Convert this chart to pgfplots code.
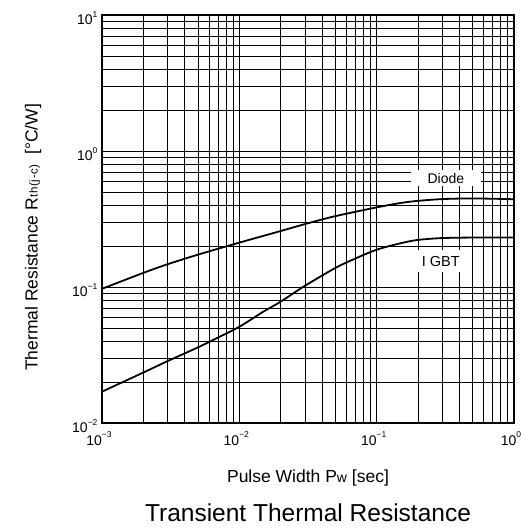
\documentclass[border=0pt]{standalone}
\usepackage{pgfplots}
\pgfplotsset{compat=1.18}
\usepackage{fontspec}
\setmainfont{Liberation Sans}
\newcommand{\sexp}[1]{\raisebox{0.55em}{\fontsize{8.5}{9}\selectfont #1}}
\begin{document}
\begin{tikzpicture}
\useasboundingbox (-102pt,-108pt) rectangle (422pt,423pt);
\begin{axis}[
  at={(0pt,0pt)}, anchor=south west,
  scale only axis, width=412pt, height=408pt,
  xmode=log, ymode=log,
  xmin=1e-3, xmax=1, ymin=1e-2, ymax=10,
  xtick={1e-3,1e-2,1e-1,1},
  xticklabels={10\sexp{−3},10\sexp{−2},10\sexp{−1},10\sexp{0}},
  ytick={1e-2,1e-1,1,10},
  yticklabels={10\sexp{−2},10\sexp{−1},10\sexp{0},10\sexp{1}},
  minor xtick={2e-3,3e-3,4e-3,5e-3,6e-3,7e-3,8e-3,9e-3,2e-2,3e-2,4e-2,5e-2,6e-2,7e-2,8e-2,9e-2,0.2,0.3,0.4,0.5,0.6,0.7,0.8,0.9},
  minor ytick={2e-2,3e-2,4e-2,5e-2,6e-2,7e-2,8e-2,9e-2,0.2,0.3,0.4,0.5,0.6,0.7,0.8,0.9,2,3,4,5,6,7,8,9},
  grid=both,
  major grid style={black, line width=0.7pt},
  minor grid style={black, line width=0.6pt},
  major tick length=0pt, minor tick length=0pt,
  axis line style={black, line width=1.1pt},
  tick label style={font=\fontsize{14}{15}\selectfont},
  xticklabel style={yshift=-5pt, xshift=-3pt},
  yticklabel style={xshift=-1pt, yshift=-3pt},
  xlabel={Pulse Width P{\fontsize{14}{15}\selectfont w} [sec]},
  ylabel={Thermal Resistance R{\fontsize{11.5}{12}\selectfont\kern0.5pt t\kern0.6pt h\kern0.6pt (\kern0.6pt j\kern0.6pt -\kern0.6pt c\kern0.6pt )} \ [°C/W]},
  every axis x label/.style={at={(axis description cs:0.5,-0.135)}, anchor=center, font=\fontsize{17.5}{19}\selectfont},
  every axis y label/.style={at={(axis description cs:-0.167,0.455)}, rotate=90, anchor=center, font=\fontsize{17.5}{19}\selectfont},
  title={Transient Thermal Resistance},
  title style={at={(axis description cs:0.5,-0.235)}, anchor=center, font=\fontsize{24.5}{26}\selectfont},
]
\addplot[black, line width=1.8pt, smooth] coordinates {
(0.001,0.097) (0.002,0.127) (0.003,0.147) (0.005,0.173) (0.01,0.212)
(0.02,0.258) (0.03,0.29) (0.05,0.332) (0.1,0.385) (0.15,0.415)
(0.2,0.43) (0.3,0.443) (0.5,0.448) (1,0.442)
};
\addplot[black, line width=1.8pt, smooth] coordinates {
(0.001,0.017) (0.002,0.0235) (0.003,0.0285) (0.005,0.036) (0.007,0.0425)
(0.01,0.051) (0.015,0.066) (0.02,0.078) (0.03,0.102) (0.05,0.138)
(0.07,0.162) (0.1,0.188) (0.15,0.21) (0.2,0.222) (0.3,0.229) (0.5,0.231) (1,0.231)
};
\node[fill=white, inner xsep=17pt, inner ysep=3pt, font=\fontsize{14}{15}\selectfont] at (axis cs:0.319,0.632) {Diode};
\node[fill=white, inner xsep=6pt, inner ysep=6pt, font=\fontsize{14.5}{15}\selectfont] at (axis cs:0.293,0.155) {I GBT};
\end{axis}
\end{tikzpicture}
\end{document}
